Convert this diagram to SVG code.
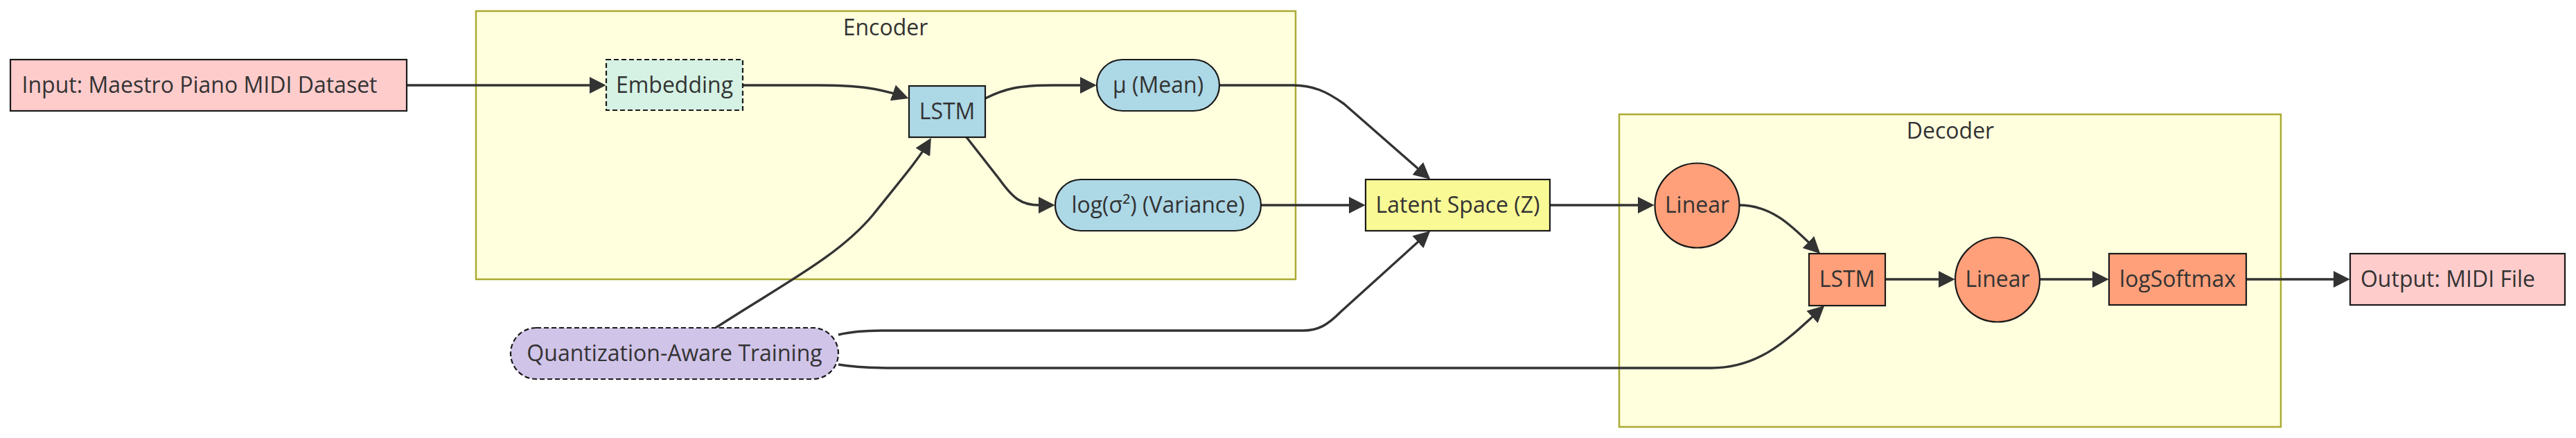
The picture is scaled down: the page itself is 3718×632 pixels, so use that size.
<svg xmlns="http://www.w3.org/2000/svg" width="3718" height="632" viewBox="0 0 3718 632">
<defs>
<style>
text{font-family:"Open Sans","Noto Sans","Liberation Sans",sans-serif;font-size:32px;fill:#333;text-anchor:middle}
.cluster{fill:#ffffde;stroke:#aaaa33;stroke-width:2.5}
.node{stroke:#1a1a1a;stroke-width:2.2}
.dash{stroke-dasharray:7 4}
.pink{fill:#ffcccc}
.mint{fill:#d5f2e4}
.blue{fill:#add8e6}
.yellow{fill:#f9f996}
.salmon{fill:#ffa07a}
.lav{fill:#d1c4e9}
.edge{fill:none;stroke:#333;stroke-width:3.4;marker-end:url(#arrow)}
</style>
<marker id="arrow" viewBox="0 0 10 10" refX="7.6" refY="5" markerWidth="24" markerHeight="24" markerUnits="userSpaceOnUse" orient="auto">
<path d="M0,0 L10,5 L0,10 z" fill="#333"/>
</marker>
</defs>
<rect width="3718" height="632" fill="#ffffff"/>

<g id="encoder">
<rect class="cluster" x="687" y="16" width="1183" height="387"/>
<text x="1278" y="51">Encoder</text>
</g>
<g id="decoder">
<rect class="cluster" x="2337" y="165" width="955" height="451"/>
<text x="2815" y="200">Decoder</text>
</g>

<g id="connectors">
<path class="edge" d="M587,123 L869,123"/>
<path class="edge" d="M1072,123 L1180,123 C1240,123 1272,128 1306,140"/>
<path class="edge" d="M1422,142 C1450,128 1470,123 1520,123 L1577,123"/>
<path class="edge" d="M1395,198 L1442,258 C1462,286 1474,296 1500,296 L1517,296"/>
<path class="edge" d="M1033,473 C1130,410 1210,370 1260,310 C1300,260 1327,228 1341,204"/>
<path class="edge" d="M1760,123 L1866,123 C1895,123 1915,132 1940,150 L2060,255"/>
<path class="edge" d="M1820,296 L1965,296"/>
<path class="edge" d="M1210,483 Q1235,477 1275,477 L1880,477 C1903,477 1916,469 1935,450 L2060,337"/>
<path class="edge" d="M2237,296 L2382,296"/>
<path class="edge" d="M2510,296 C2560,296 2590,330 2623,362"/>
<path class="edge" d="M1210,526 Q1240,531 1290,531 L2470,531 C2540,531 2580,490 2629,445"/>
<path class="edge" d="M2721,403 L2816,403"/>
<path class="edge" d="M2944,403 L3038,403"/>
<path class="edge" d="M3242,403 L3386,403"/>
</g>

<g id="input">
<rect class="node pink" x="15" y="86" width="572" height="74"/>
<text x="288" y="134">Input: Maestro Piano MIDI Dataset</text>
</g>
<g id="embedding">
<rect class="node mint dash" x="875" y="86" width="197" height="73"/>
<text x="973.5" y="134">Embedding</text>
</g>
<g id="lstm-enc">
<rect class="node blue" x="1312" y="124" width="110" height="74"/>
<text x="1367" y="172">LSTM</text>
</g>
<g id="mu">
<rect class="node blue" x="1583" y="86" width="177" height="74" rx="37" ry="37"/>
<text x="1671.5" y="134">μ (Mean)</text>
</g>
<g id="logvar">
<rect class="node blue" x="1523" y="259" width="297" height="74" rx="37" ry="37"/>
<text x="1671.5" y="307">log(σ²) (Variance)</text>
</g>
<g id="latent">
<rect class="node yellow" x="1971" y="259" width="266" height="74"/>
<text x="2104" y="307">Latent Space (Z)</text>
</g>
<g id="linear1">
<circle class="node salmon" cx="2449.5" cy="296.5" r="61"/>
<text x="2449.5" y="307">Linear</text>
</g>
<g id="lstm-dec">
<rect class="node salmon" x="2611" y="366" width="110" height="75"/>
<text x="2666" y="414">LSTM</text>
</g>
<g id="linear2">
<circle class="node salmon" cx="2883" cy="403.5" r="61"/>
<text x="2883" y="414">Linear</text>
</g>
<g id="logsoftmax">
<rect class="node salmon" x="3044" y="366" width="198" height="74"/>
<text x="3143" y="414">logSoftmax</text>
</g>
<g id="output">
<rect class="node pink" x="3392" y="366" width="310" height="74"/>
<text x="3533" y="414">Output: MIDI File</text>
</g>
<g id="qat">
<rect class="node lav dash" x="737" y="473" width="473" height="74" rx="37" ry="37"/>
<text x="973.5" y="521">Quantization-Aware Training</text>
</g>
</svg>
